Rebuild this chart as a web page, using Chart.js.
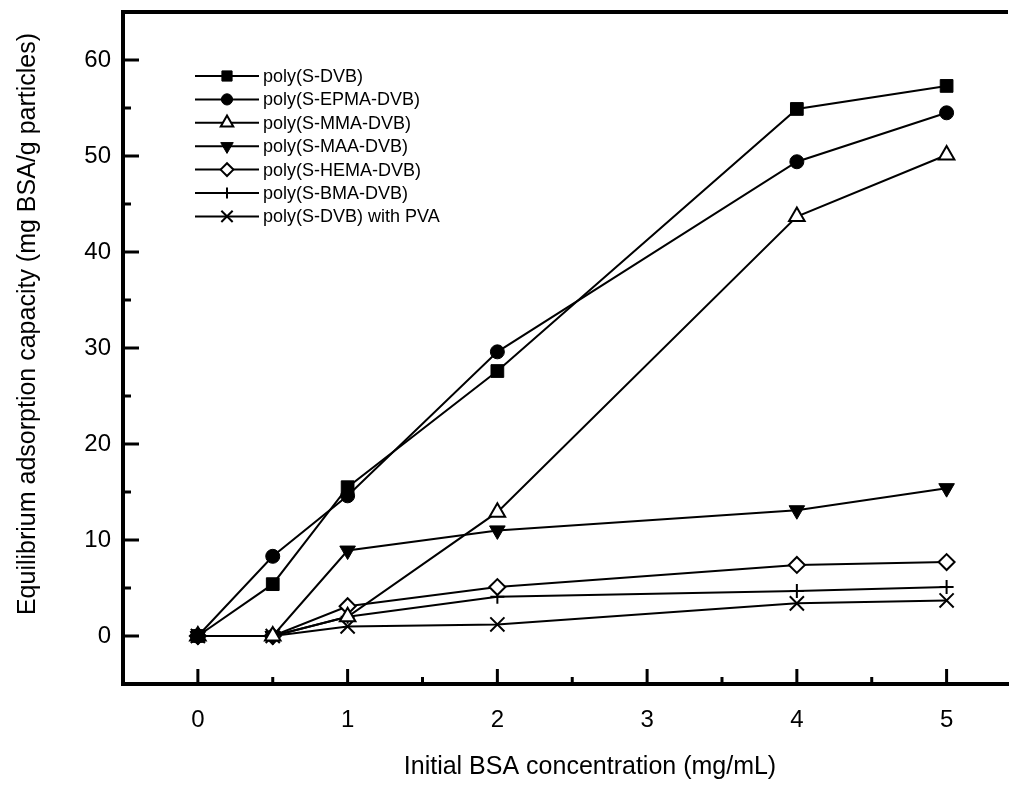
<!DOCTYPE html>
<html>
<head>
<meta charset="utf-8">
<script src="https://cdn.jsdelivr.net/npm/chart.js@4.4.1/dist/chart.umd.min.js"></script>
<style>
  html, body { margin: 0; padding: 0; background: #fff; overflow: hidden; }
  canvas { display: block; }
</style>
</head>
<body>
<canvas id="graficoAdsorcion" width="1012" height="800"></canvas>
<script>
// concentraciones iniciales de BSA (mg/mL)
const concentraciones = [0, 0.5, 1, 2, 4, 5]

const polySDVB     = [0, 5.4, 15.5, 27.6, 54.9, 57.3]
const polySEPMADVB = [0, 8.3, 14.6, 29.6, 49.4, 54.5]
const polySMMADVB  = [0, 0, 2.0, 12.9, 43.7, 50.1]
const polySMAADVB  = [0, 0, 8.9, 11.0, 13.1, 15.4]
const polySHEMADVB = [0, 0, 3.1, 5.1, 7.4, 7.7]
const polySBMADVB  = [0, 0, 2.0, 4.1, 4.7, 5.1]
const polySDVBPVA  = [0, 0, 1.0, 1.2, 3.4, 3.7]

const etiquetasSeries = [
  "poly(S-DVB)",
  "poly(S-EPMA-DVB)",
  "poly(S-MMA-DVB)",
  "poly(S-MAA-DVB)",
  "poly(S-HEMA-DVB)",
  "poly(S-BMA-DVB)",
  "poly(S-DVB) with PVA",
]

const ticksX = [0, 1, 2, 3, 4, 5]
const ticksY = [0, 10, 20, 30, 40, 50, 60]

const tituloX = "Initial BSA concentration (mg/mL)"
const tituloY = "Equilibrium adsorption capacity (mg BSA/g particles)"

const fuente = '"Liberation Sans", Arial, sans-serif'

const puntos = (valores) => valores.map((v, i) => ({ x: concentraciones[i], y: v }))

const serie = (label, valores, estilo) => ({
  label: label,
  data: puntos(valores),
  borderColor: "#000",
  borderWidth: 2,
  pointBorderColor: "#000",
  pointBackgroundColor: estilo.relleno,
  pointBorderWidth: estilo.bordePunto,
  pointStyle: estilo.forma,
  pointRadius: estilo.radio,
  pointRotation: estilo.rotacion || 0,
  pointHoverRadius: estilo.radio,
  tension: 0,
  fill: false,
})

const datasets = [
  serie(etiquetasSeries[0], polySDVB,     { forma: "rect", radio: 9, relleno: "#000", bordePunto: 1 }),
  serie(etiquetasSeries[1], polySEPMADVB, { forma: "circle", radio: 7, relleno: "#000", bordePunto: 1 }),
  serie(etiquetasSeries[2], polySMMADVB,  { forma: "triangle", radio: 9, relleno: "#fff", bordePunto: 2 }),
  serie(etiquetasSeries[3], polySMAADVB,  { forma: "triangle", radio: 9, relleno: "#000", bordePunto: 1, rotacion: 180 }),
  serie(etiquetasSeries[4], polySHEMADVB, { forma: "rectRot", radio: 8, relleno: "#fff", bordePunto: 2 }),
  serie(etiquetasSeries[5], polySBMADVB,  { forma: "cross", radio: 7, relleno: "#fff", bordePunto: 2 }),
  serie(etiquetasSeries[6], polySDVBPVA,  { forma: "crossRot", radio: 10, relleno: "#fff", bordePunto: 2 }),
]

// marcas, borde superior, titulos y leyenda dibujados a mano
const marcoPlugin = {
  id: "marco",
  afterDraw(chart) {
    const ctx = chart.ctx
    const area = chart.chartArea
    const sx = chart.scales.x
    const sy = chart.scales.y
    ctx.save()
    ctx.strokeStyle = "#000"
    ctx.fillStyle = "#000"

    // borde superior
    ctx.lineWidth = 4
    ctx.beginPath()
    ctx.moveTo(area.left - 2, area.top)
    ctx.lineTo(area.right, area.top)
    ctx.stroke()

    // marcas hacia dentro
    ctx.lineWidth = 3
    for (let v = 0; v <= 5; v += 0.5) {
      const px = sx.getPixelForValue(v)
      const largo = Number.isInteger(v) ? 15 : 7
      ctx.beginPath()
      ctx.moveTo(px, area.bottom)
      ctx.lineTo(px, area.bottom - largo)
      ctx.stroke()
    }
    for (let v = 0; v <= 60; v += 5) {
      const py = sy.getPixelForValue(v)
      const largo = v % 10 === 0 ? 16 : 8
      ctx.beginPath()
      ctx.moveTo(area.left, py)
      ctx.lineTo(area.left + largo, py)
      ctx.stroke()
    }

    // titulos de ejes
    ctx.font = "25px " + fuente
    ctx.textAlign = "center"
    ctx.textBaseline = "middle"
    ctx.fillText(tituloX, 590, 767)
    ctx.save()
    ctx.translate(28, 324)
    ctx.rotate(-Math.PI / 2)
    ctx.fillText(tituloY, 0, 0)
    ctx.restore()

    // leyenda
    ctx.font = "18px " + fuente
    ctx.textAlign = "left"
    chart.data.datasets.forEach((ds, i) => {
      const y = 76 + i * 23.4
      ctx.lineWidth = 2
      ctx.strokeStyle = "#000"
      ctx.beginPath()
      ctx.moveTo(195, y)
      ctx.lineTo(259, y)
      ctx.stroke()
      ctx.fillStyle = ds.pointBackgroundColor
      ctx.lineWidth = ds.pointBorderWidth
      Chart.helpers.drawPoint(ctx, {
        pointStyle: ds.pointStyle,
        radius: ds.pointRadius * 0.8,
        rotation: ds.pointRotation,
        borderWidth: ds.pointBorderWidth,
      }, 227, y)
      ctx.fillStyle = "#000"
      ctx.fillText(ds.label, 263, y + 1)
    })
    ctx.restore()
  },
}

const lienzo = document.getElementById("graficoAdsorcion")

new Chart(lienzo, {
  type: "line",
  data: { datasets: datasets },
  plugins: [marcoPlugin],
  options: {
    responsive: false,
    devicePixelRatio: 1,
    animation: false,
    layout: { autoPadding: false, padding: { top: 12, right: 4, left: 0, bottom: 0 } },
    plugins: {
      legend: { display: false },
      tooltip: { enabled: false },
    },
    scales: {
      x: {
        type: "linear",
        min: -0.5,
        max: 5.41,
        grid: { display: false, drawTicks: false },
        border: { display: true, color: "#000", width: 4 },
        ticks: { color: "#000", font: { size: 24, family: fuente }, padding: 22 },
        afterBuildTicks: (escala) => { escala.ticks = ticksX.map((v) => ({ value: v })) },
        afterFit: (escala) => {
          escala.height = 116
          escala.paddingLeft = 0
          escala.paddingRight = 0
        },
      },
      y: {
        min: -5,
        max: 65,
        grid: { display: false, drawTicks: false },
        border: { display: true, color: "#000", width: 4 },
        ticks: { color: "#000", font: { size: 24, family: fuente }, padding: 12 },
        afterBuildTicks: (escala) => { escala.ticks = ticksY.map((v) => ({ value: v })) },
        afterFit: (escala) => {
          escala.width = 123
          escala.paddingTop = 0
          escala.paddingBottom = 0
        },
      },
    },
  },
})
</script>
</body>
</html>
